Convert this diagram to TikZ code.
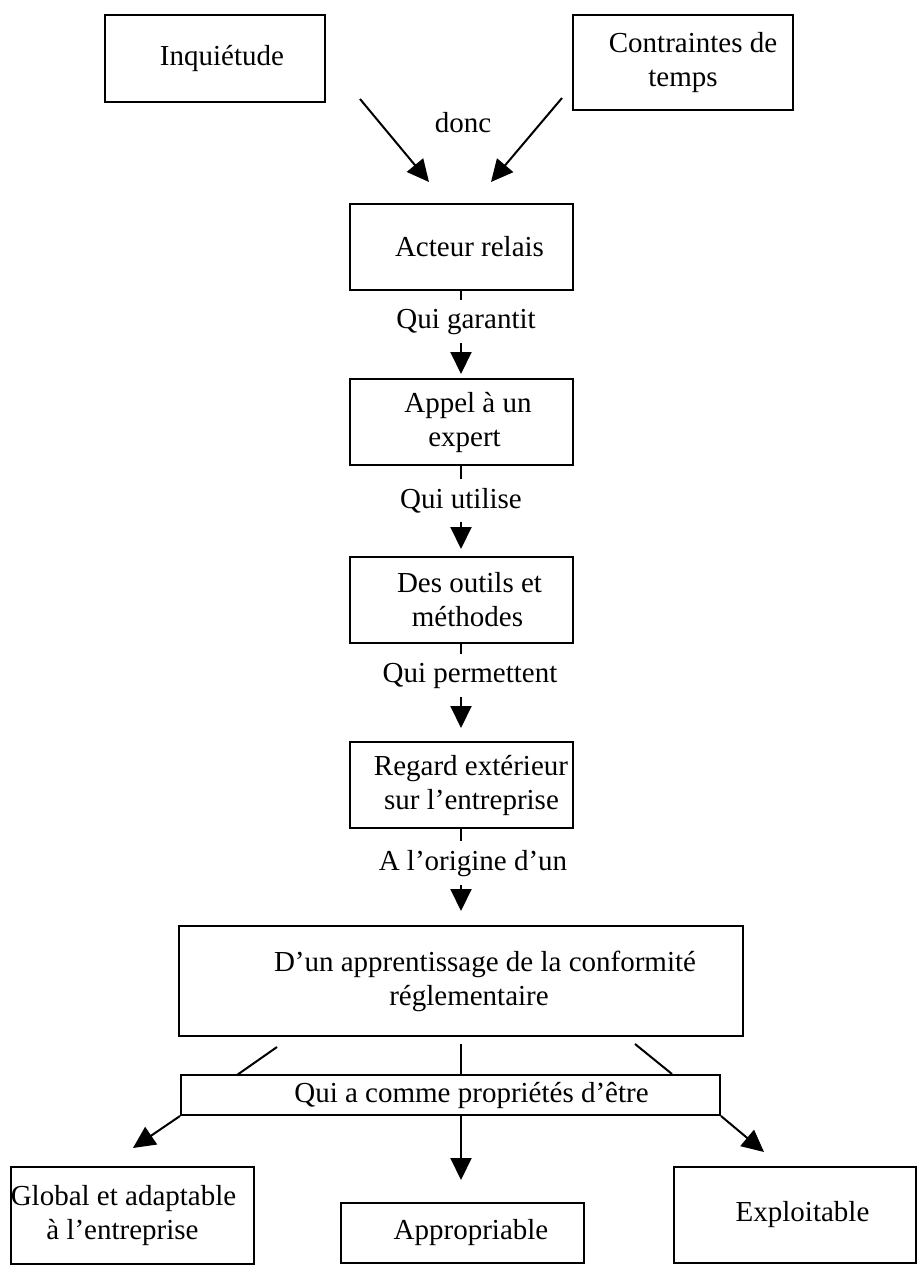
\documentclass[tikz,border=0pt]{standalone}
\usepackage{fontspec}
\setmainfont{Liberation Serif}
\usetikzlibrary{arrows.meta,calc}
\begin{document}
\begin{tikzpicture}[x=1pt,y=-1pt,line width=2pt,
  box/.style={draw,rectangle,inner sep=2pt,align=center,font=\fontsize{29}{34}\selectfont},
  lab/.style={inner xsep=2pt,inner ysep=8pt,font=\fontsize{29}{34}\selectfont,anchor=base},
  arr/.style={-{Triangle[length=22pt,width=21pt]}}]
\useasboundingbox (0,0) rectangle (920,1274);
% boxes
\node[box,minimum width=220pt,minimum height=87pt] (inq) at (215,58.5) {\hspace*{14pt}Inquiétude};
\node[box,minimum width=220pt,minimum height=95pt] (con) at (683,62.5) {\hspace*{20pt}Contraintes de\\temps};
\node[box,minimum width=223pt,minimum height=86pt] (acteur) at (461,247) {\hspace*{17pt}Acteur relais};
\node[box,minimum width=223pt,minimum height=86pt] (appel) at (461,422) {\hspace*{14pt}Appel à un\\\hspace*{7pt}expert};
\node[box,minimum width=223pt,minimum height=86pt] (outils) at (461,600) {\hspace*{17pt}Des outils et\\\hspace*{13pt}méthodes};
\node[box,minimum width=223pt,minimum height=86pt] (regard) at (461,785) {\hspace*{20pt}Regard extérieur\\\hspace*{21pt}sur l’entreprise};
\node[box,minimum width=564pt,minimum height=110pt] (dun) at (461,981) {\hspace*{48pt}D’un apprentissage de la conformité\\\hspace*{16pt}réglementaire};
\node[box,minimum width=539pt,minimum height=40pt] (qui) at (450.5,1095) {\hspace*{42pt}Qui a comme propriétés d’être};
\node[box,minimum width=243pt,minimum height=97pt] (glob) at (132.5,1215.5) {\hspace*{-18pt}Global et adaptable\\\hspace*{-20pt}à l’entreprise};
\node[box,minimum width=243pt,minimum height=60pt] (appr) at (462.5,1233) {\hspace*{17pt}Appropriable};
\node[box,minimum width=242pt,minimum height=96pt] (expl) at (795,1215) {\hspace*{15pt}Exploitable};
% labels
\node[lab] (donc) at (463,132) {donc};
\node[lab] (l1) at (466,328) {Qui garantit};
\node[lab] (l2) at (461,508) {Qui utilise};
\node[lab] (l3) at (470,682) {Qui permettent};
\node[lab] (l4) at (473,870) {A l’origine d’un};
% free ends
\coordinate (t1) at (360,99);
\coordinate (t2) at (429,182);
\coordinate (t3) at (562,98);
\coordinate (t4) at (491,182);
\coordinate (d1) at (277,1047);
\coordinate (q1) at (237,1075);
\coordinate (d2) at (461,1044);
\coordinate (q2) at (461,1075);
\coordinate (d3) at (635,1044);
\coordinate (q3) at (672,1074);
\coordinate (b1) at (133,1148);
\coordinate (s2) at (461,1115);
\coordinate (b2) at (461,1180);
\coordinate (b3) at (764,1152);
% connectors
\draw[arr] (t1) -- (t2);
\draw[arr] (t3) -- (t4);
\draw (acteur.south) -- (acteur.south |- l1.north);
\draw[arr,shorten >=4pt] (acteur.south |- l1.south) -- (appel.north);
\draw (appel.south) -- (appel.south |- l2.north);
\draw[arr,shorten >=7pt] (appel.south |- l2.south) -- (outils.north);
\draw (outils.south) -- (outils.south |- l3.north);
\draw[arr,shorten >=13pt] (outils.south |- l3.south) -- (regard.north);
\draw (regard.south) -- (regard.south |- l4.north);
\draw[arr,shorten >=14pt] (regard.south |- l4.south) -- (dun.north);
\draw (d1) -- (q1);
\draw (d2) -- (q2);
\draw (d3) -- (q3);
\draw[arr] (qui.south west) -- (b1);
\draw[arr] (s2) -- (b2);
\draw[arr] (qui.south east) -- (b3);
\end{tikzpicture}
\end{document}
